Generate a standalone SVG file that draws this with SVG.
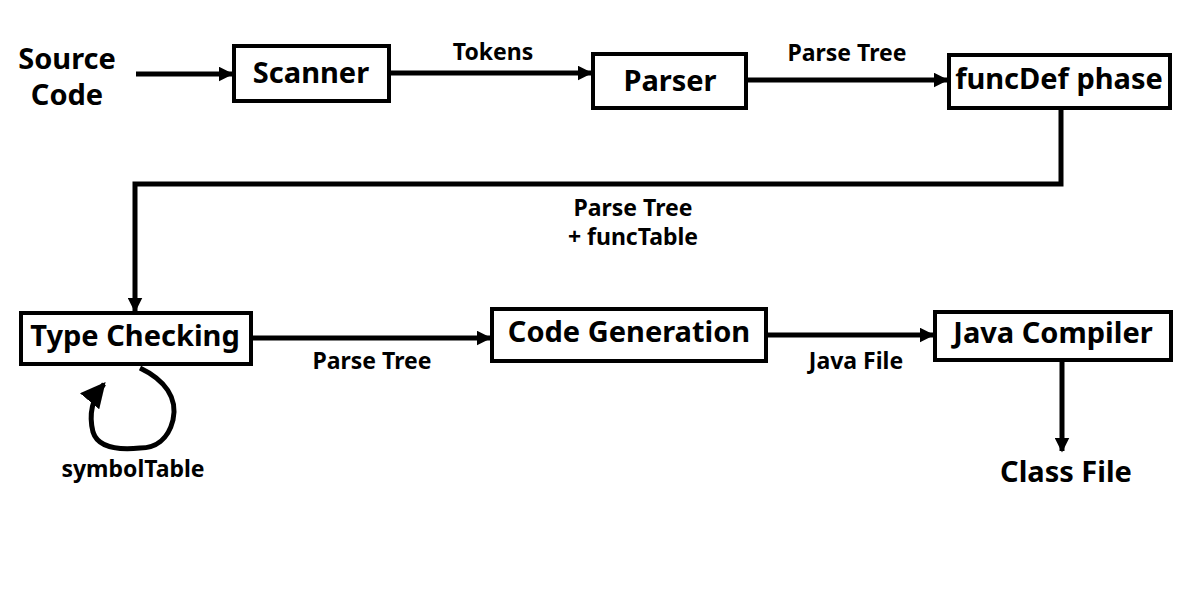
<svg xmlns="http://www.w3.org/2000/svg" width="1200" height="600" viewBox="0 0 1200 600">
<style>
.box{fill:#fff;stroke:#000;stroke-width:4}
.t{font-family:"Noto Sans","Open Sans","DejaVu Sans",sans-serif;font-weight:bold;fill:#000;text-anchor:middle}
.big{font-size:29px}
.sm{font-size:23px}
.ln{fill:none;stroke:#000;stroke-width:5}
</style>
<defs>
<marker id="ah" viewBox="0 0 10 10" refX="9" refY="5" markerWidth="3" markerHeight="3" orient="auto" markerUnits="strokeWidth">
<path d="M0,0 L10,5 L0,10 z" fill="#000"/>
</marker>
<marker id="ahl" viewBox="0 0 10 10" refX="9" refY="5" markerWidth="5" markerHeight="5" orient="auto" markerUnits="strokeWidth">
<path d="M0,0 L10,5 L0,10 z" fill="#000"/>
</marker>
</defs>
<rect width="1200" height="600" fill="#fff"/>
<g id="connectors">
<line class="ln" x1="136" y1="74" x2="232" y2="74" marker-end="url(#ah)"/>
<line class="ln" x1="389" y1="73" x2="591" y2="73" marker-end="url(#ah)"/>
<line class="ln" x1="746" y1="80" x2="947" y2="80" marker-end="url(#ah)"/>
<polyline class="ln" points="1061,108 1061,184 135,184 135,311" marker-end="url(#ah)"/>
<line class="ln" x1="251" y1="338" x2="490" y2="338" marker-end="url(#ah)"/>
<line class="ln" x1="766" y1="335" x2="933" y2="335" marker-end="url(#ah)"/>
<line class="ln" x1="1062" y1="360" x2="1062" y2="451" marker-end="url(#ah)"/>
<path class="ln" d="M140,368 C165,380 178,398 173,420 C168,440 155,448 140,448 C120,450 98,448 93,432 C88,412 94,396 104,384" marker-end="url(#ahl)"/>
<text class="t sm" x="493" y="60">Tokens</text>
<text class="t sm" x="847" y="61">Parse Tree</text>
<text class="t sm" x="633" y="216">Parse Tree</text>
<text class="t sm" x="633" y="245">+ funcTable</text>
<text class="t sm" x="372" y="369">Parse Tree</text>
<text class="t sm" x="856" y="369">Java File</text>
<text class="t sm" x="133" y="477">symbolTable</text>
</g>
<g id="source"><text class="t big" x="67" y="69">Source</text><text class="t big" x="67" y="105">Code</text></g>
<g id="scanner"><rect class="box" x="234" y="46" width="155" height="55"/><text class="t big" x="311" y="83">Scanner</text></g>
<g id="parser"><rect class="box" x="593" y="54" width="153" height="54"/><text class="t big" x="670" y="91">Parser</text></g>
<g id="funcdef"><rect class="box" x="949" y="55" width="221" height="53"/><text class="t big" x="1059" y="89">funcDef phase</text></g>
<g id="typecheck"><rect class="box" x="21" y="313" width="230" height="51"/><text class="t big" x="135" y="346">Type Checking</text></g>
<g id="codegen"><rect class="box" x="492" y="309" width="274" height="52"/><text class="t big" x="629" y="342">Code Generation</text></g>
<g id="javac"><rect class="box" x="935" y="312" width="236" height="48"/><text class="t big" x="1053" y="343">Java Compiler</text></g>
<g id="classfile"><text class="t big" x="1066" y="482">Class File</text></g>
</svg>
